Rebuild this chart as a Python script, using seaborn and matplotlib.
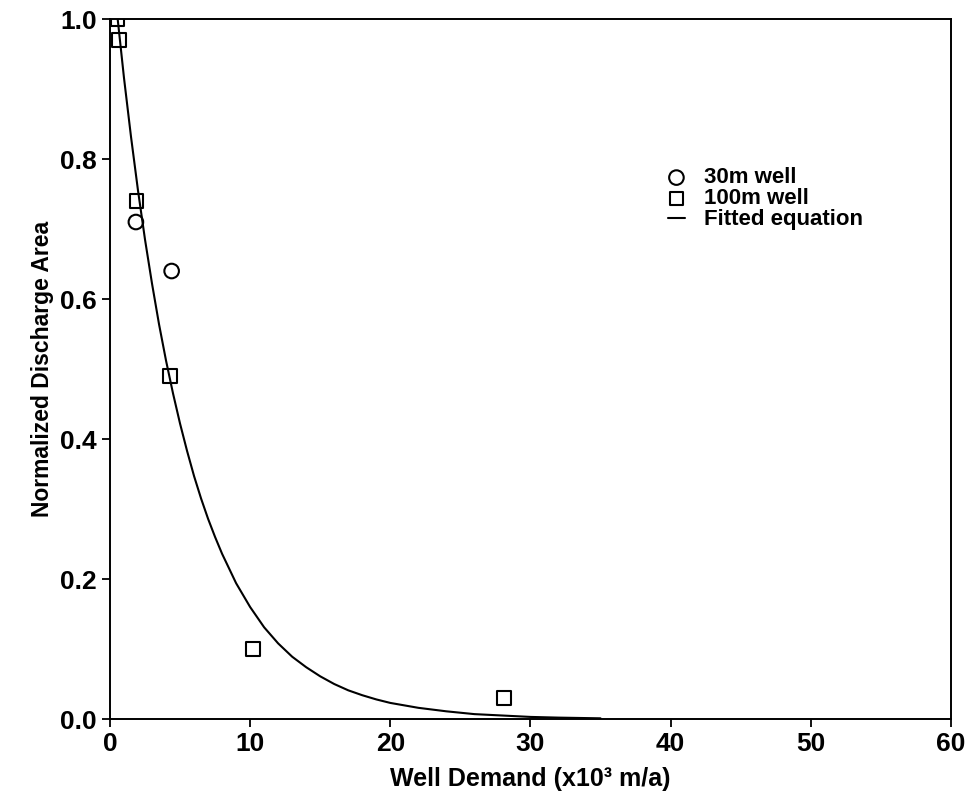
import numpy as np
import pandas as pd
import matplotlib
matplotlib.use("Agg")
import matplotlib.pyplot as plt
import seaborn as sns

# datos
pozo30_x = [1.85, 4.4]
pozo30_y = [0.71, 0.64]

pozo100_x = [0.55, 0.65, 1.9, 4.3, 10.2, 28.1]
pozo100_y = [1.0, 0.97, 0.74, 0.49, 0.10, 0.03]

curva_x = [0.55, 1, 1.5, 2, 2.5, 3, 3.5, 4, 4.5, 5, 5.5, 6, 6.5, 7, 7.5, 8, 9, 10, 11, 12,
           13, 14, 15, 16, 17, 18, 19, 20, 22, 24, 26, 28, 30, 32, 35]
curva_y = [1.0, 0.916, 0.832, 0.755, 0.685, 0.622, 0.564, 0.512, 0.465, 0.422, 0.383,
           0.347, 0.315, 0.286, 0.260, 0.236, 0.194, 0.160, 0.131, 0.108, 0.089, 0.074,
           0.061, 0.050, 0.041, 0.034, 0.028, 0.023, 0.016, 0.011, 0.007, 0.005, 0.003,
           0.002, 0.001]

x_ticks = [0, 10, 20, 30, 40, 50, 60]
y_ticks = [0.0, 0.2, 0.4, 0.6, 0.8, 1.0]

sns.set_style("ticks")
plt.rcParams['font.family'] = ['Liberation Sans', 'DejaVu Sans']
plt.rcParams['font.weight'] = 'bold'
plt.rcParams['text.color'] = 'black'
plt.rcParams['axes.labelcolor'] = 'black'

fig = plt.figure(figsize=(9.68, 7.99), dpi=100)
ax = fig.add_axes([0.1136, 0.1001, 0.9824 - 0.1136, 0.9762 - 0.1001])

df30 = pd.DataFrame({"x": pozo30_x, "y": pozo30_y})
df100 = pd.DataFrame({"x": pozo100_x, "y": pozo100_y})
dfc = pd.DataFrame({"x": curva_x, "y": curva_y})

sns.lineplot(data=dfc, x="x", y="y", ax=ax, color="black", lw=1.5,
             label="Fitted equation", zorder=2)
sns.scatterplot(data=df30, x="x", y="y", ax=ax, marker="o", s=110,
                facecolor="none", edgecolor="black", linewidth=1.5,
                label="30m well", zorder=3)
sns.scatterplot(data=df100, x="x", y="y", ax=ax, marker="s", s=95,
                facecolor="none", edgecolor="black", linewidth=1.5,
                label="100m well", zorder=3)

ax.set_xlim(0, 60)
ax.set_ylim(0, 1.0)
ax.set_xticks(x_ticks)
ax.set_yticks(y_ticks)
ax.set_xticklabels([str(t) for t in x_ticks])
ax.set_yticklabels(["%.1f" % t for t in y_ticks])
ax.tick_params(axis="both", direction="out", length=6, width=1.3,
               labelsize=19, color="black", labelcolor="black")
for sp in ax.spines.values():
    sp.set_visible(True)
    sp.set_linewidth(1.4)
    sp.set_color("black")

ax.set_xlabel("Well Demand (x10³ m/a)", fontsize=18, fontweight="bold", labelpad=8)
ax.set_ylabel("Normalized Discharge Area", fontsize=16.5, fontweight="bold", labelpad=4)

handles, labels = ax.get_legend_handles_labels()
orden = [labels.index("30m well"), labels.index("100m well"), labels.index("Fitted equation")]
leg = ax.legend([handles[i] for i in orden], [labels[i] for i in orden],
                loc="center left", bbox_to_anchor=(0.663, 0.743), frameon=False,
                fontsize=16, labelspacing=0.0, handlelength=0.8, handletextpad=0.85,
                borderpad=0, borderaxespad=0)
for t in leg.get_texts():
    t.set_color("black")

fig.savefig("out.png", dpi=100)
